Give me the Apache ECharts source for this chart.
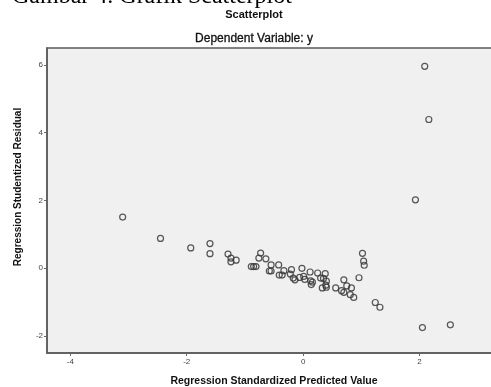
<!DOCTYPE html>
<html>
<head>
<meta charset="utf-8">
<script src="https://cdn.jsdelivr.net/npm/echarts@6/dist/echarts.min.js"></script>
<style>html,body{margin:0;padding:0;background:#fff;}#c{width:491px;height:387px;}</style>
</head>
<body>
<div id="c"></div>
<script>
var xValues = [-3.10,-2.45,-1.93,-1.60,-1.60,-1.29,-1.24,-1.24,-1.15,-0.89,-0.85,-0.81,-0.73,-0.76,-0.64,-0.55,-0.58,-0.55,-0.42,-0.41,-0.33,-0.36,-0.20,-0.22,-0.17,-0.14,-0.02,-0.06,0.01,0.03,0.12,0.13,0.16,0.14,0.25,0.30,0.38,0.35,0.40,0.39,0.33,0.40,0.56,0.70,0.66,0.70,0.75,0.83,0.81,0.87,0.96,1.02,1.04,1.05,1.24,1.32,1.93,2.09,2.16,2.05,2.53];
var yValues = [1.51,0.88,0.60,0.73,0.43,0.42,0.30,0.19,0.24,0.05,0.05,0.05,0.45,0.30,0.28,0.10,-0.08,-0.08,0.10,-0.20,-0.07,-0.20,-0.04,-0.17,-0.29,-0.34,0.00,-0.27,-0.24,-0.33,-0.11,-0.37,-0.41,-0.48,-0.14,-0.29,-0.16,-0.30,-0.38,-0.50,-0.58,-0.56,-0.58,-0.34,-0.66,-0.71,-0.52,-0.58,-0.78,-0.86,-0.28,0.44,0.21,0.09,-1.01,-1.15,2.02,5.96,4.39,-1.75,-1.67];
var xTicks = [-4,-2,0,2];
var yTicks = [-2,0,2,4,6];
var titleText = 'Scatterplot';
var subtitleText = 'Dependent Variable: y';
var xTitle = 'Regression Standardized Predicted Value';
var yTitle = 'Regression Studentized Residual';
var captionText = 'Gambar 4. Grafik Scatterplot';

var pts = xValues.map(function(x,i){return [x,yValues[i]];});
var chart = echarts.init(document.getElementById('c'), null, {renderer:'canvas'});
chart.setOption({
  animation:false,
  backgroundColor:'#ffffff',
  grid:{left:47,top:48,right:-10,height:305,outerBoundsMode:'none',containLabel:false,show:true,backgroundColor:'#f0f0f0',borderColor:'#5a5a5a',borderWidth:1.5},
  xAxis:{type:'value',min:-4.4,max:3.4,
    axisLine:{show:true,onZero:false,lineStyle:{color:'#5a5a5a',width:1.5}},
    splitLine:{show:false},
    axisTick:{show:true,length:3,lineStyle:{color:'#666'},customValues:xTicks},
    axisLabel:{fontSize:8,color:'#444',fontFamily:'Liberation Sans, Arial',customValues:xTicks,margin:5}
  },
  yAxis:{type:'value',min:-2.5,max:6.5,
    axisLine:{show:true,onZero:false,lineStyle:{color:'#5a5a5a',width:1.5}},
    splitLine:{show:false},
    axisTick:{show:true,length:3,lineStyle:{color:'#666'},customValues:yTicks},
    axisLabel:{fontSize:8,color:'#444',fontFamily:'Liberation Sans, Arial',customValues:yTicks,margin:4}
  },
  series:[{
    type:'scatter',
    data:pts,
    symbol:'circle',
    symbolSize:6,
    itemStyle:{color:'rgba(0,0,0,0)',borderColor:'#3a3a3a',borderWidth:1.2,opacity:0.85}
  }],
  graphic:[
    {type:'text',left:12,top:-15,style:{text:captionText,font:'24px "Liberation Serif", "Times New Roman", serif',fill:'#000'}},
    {type:'text',x:254,y:15,style:{text:titleText,font:'bold 11px "Liberation Sans", Arial',fill:'#111',align:'center',verticalAlign:'middle'}},
    {type:'text',x:254,y:39,style:{text:subtitleText,font:'12px "Liberation Sans", Arial',fill:'#111',align:'center',verticalAlign:'middle',stroke:'#111',lineWidth:0.3}},
    {type:'text',x:274,y:381,style:{text:xTitle,font:'bold 10.5px "Liberation Sans", Arial',fill:'#111',align:'center',verticalAlign:'middle'}},
    {type:'text',x:18,y:187,rotation:Math.PI/2,style:{text:yTitle,font:'bold 10px "Liberation Sans", Arial',fill:'#111',align:'center',verticalAlign:'middle'}}
  ]
});
</script>
</body>
</html>
